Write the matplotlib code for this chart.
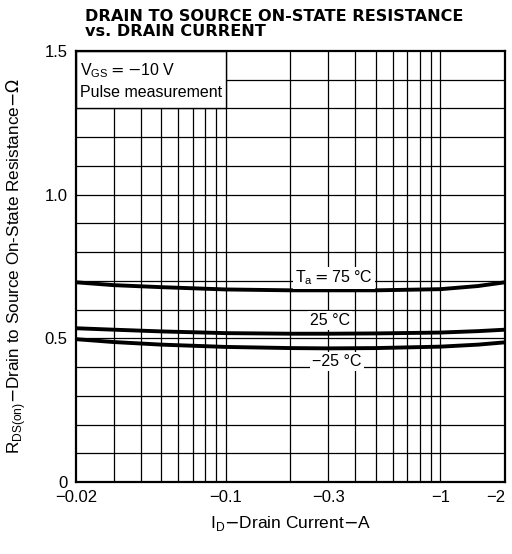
import matplotlib
matplotlib.use("Agg")
import matplotlib.pyplot as plt
from matplotlib.ticker import FixedLocator, NullFormatter, NullLocator

plt.rcParams['font.family'] = ['Liberation Sans', 'DejaVu Sans']

# drain current magnitude (A) and R_DS(on) (ohm)
current = [0.02, 0.03, 0.05, 0.1, 0.2, 0.3, 0.5, 1.0, 1.5, 2.0]
r_75 = [0.695, 0.685, 0.678, 0.670, 0.667, 0.667, 0.667, 0.671, 0.682, 0.695]
r_25 = [0.535, 0.530, 0.524, 0.518, 0.516, 0.516, 0.517, 0.520, 0.525, 0.530]
r_m25 = [0.497, 0.487, 0.478, 0.470, 0.466, 0.465, 0.466, 0.471, 0.478, 0.486]

x_ticks = [0.02, 0.1, 0.3, 1, 2]
x_ticklabels = ['\u22120.02', '\u22120.1', '\u22120.3', '\u22121', '\u22122']
y_ticks = [0, 0.5, 1.0, 1.5]
y_ticklabels = ['0', '0.5', '1.0', '1.5']
x_grid = [0.03, 0.04, 0.05, 0.06, 0.07, 0.08, 0.09, 0.1,
          0.2, 0.3, 0.4, 0.5, 0.6, 0.7, 0.8, 0.9, 1.0]
y_grid = [i / 10 for i in range(1, 15)]

fig = plt.figure(figsize=(5.12, 5.54), dpi=100)
ax = fig.add_axes([0.1484, 0.130, 0.8379, 0.778])

ax.set_xscale('log')
ax.set_xlim(0.02, 2)
ax.set_ylim(0, 1.5)

# grid drawn as plain lines so the text boxes can cover it
for gx in x_grid:
    ax.axvline(gx, color='black', lw=0.9, zorder=1)
for gy in y_grid:
    ax.axhline(gy, color='black', lw=0.9, zorder=1)

for r in (r_75, r_25, r_m25):
    ax.plot(current, r, color='black', lw=2.8, zorder=3, solid_capstyle='butt')

# condition box in upper left corner
ax.fill_between([0.02, 0.1], 1.3, 1.5, facecolor='white', edgecolor='black',
                lw=1.0, zorder=4)
ax.text(0.0208, 1.432, r'V$_{\mathregular{GS}}$$=$$-$10 V', fontsize=11.5,
        va='center', ha='left', zorder=5)
ax.text(0.0208, 1.355, 'Pulse measurement', fontsize=11.5, va='center',
        ha='left', zorder=5)

bbox = dict(facecolor='white', edgecolor='none', pad=1.5)
ax.text(0.32, 0.71, 'T$_{\\mathregular{a}}$$=$75 \u00b0C', fontsize=11.5,
        ha='center', va='center', bbox=bbox, zorder=5)
ax.text(0.305, 0.563, '25 \u00b0C', fontsize=11.5, ha='center', va='center',
        bbox=bbox, zorder=5)
ax.text(0.33, 0.418, '\u221225 \u00b0C', fontsize=11.5, ha='center', va='center',
        bbox=bbox, zorder=5)

ax.xaxis.set_major_locator(FixedLocator(x_ticks))
ax.xaxis.set_minor_locator(NullLocator())
ax.xaxis.set_minor_formatter(NullFormatter())
ax.set_xticklabels(x_ticklabels, fontsize=12)
ax.get_xticklabels()[-1].set_horizontalalignment('right')
ax.set_yticks(y_ticks)
ax.set_yticklabels(y_ticklabels, fontsize=12)
ax.tick_params(length=0, pad=6)

for s in ax.spines.values():
    s.set_linewidth(1.6)
    s.set_zorder(6)

ax.set_xlabel(r'I$_{\mathregular{D}}$$-$Drain Current$-$A', fontsize=12.5,
              labelpad=6)
ax.set_ylabel(r'R$_{\mathregular{DS(on)}}$$-$Drain to Source On-State Resistance$-$$\Omega$',
              fontsize=12.3, labelpad=12)

fig.text(0.166, 0.935, 'DRAIN TO SOURCE ON-STATE RESISTANCE\nvs. DRAIN CURRENT',
         fontsize=11.6, fontweight='bold', ha='left', va='baseline',
         linespacing=1.0, family='DejaVu Sans')

fig.savefig('out.png', dpi=100)
